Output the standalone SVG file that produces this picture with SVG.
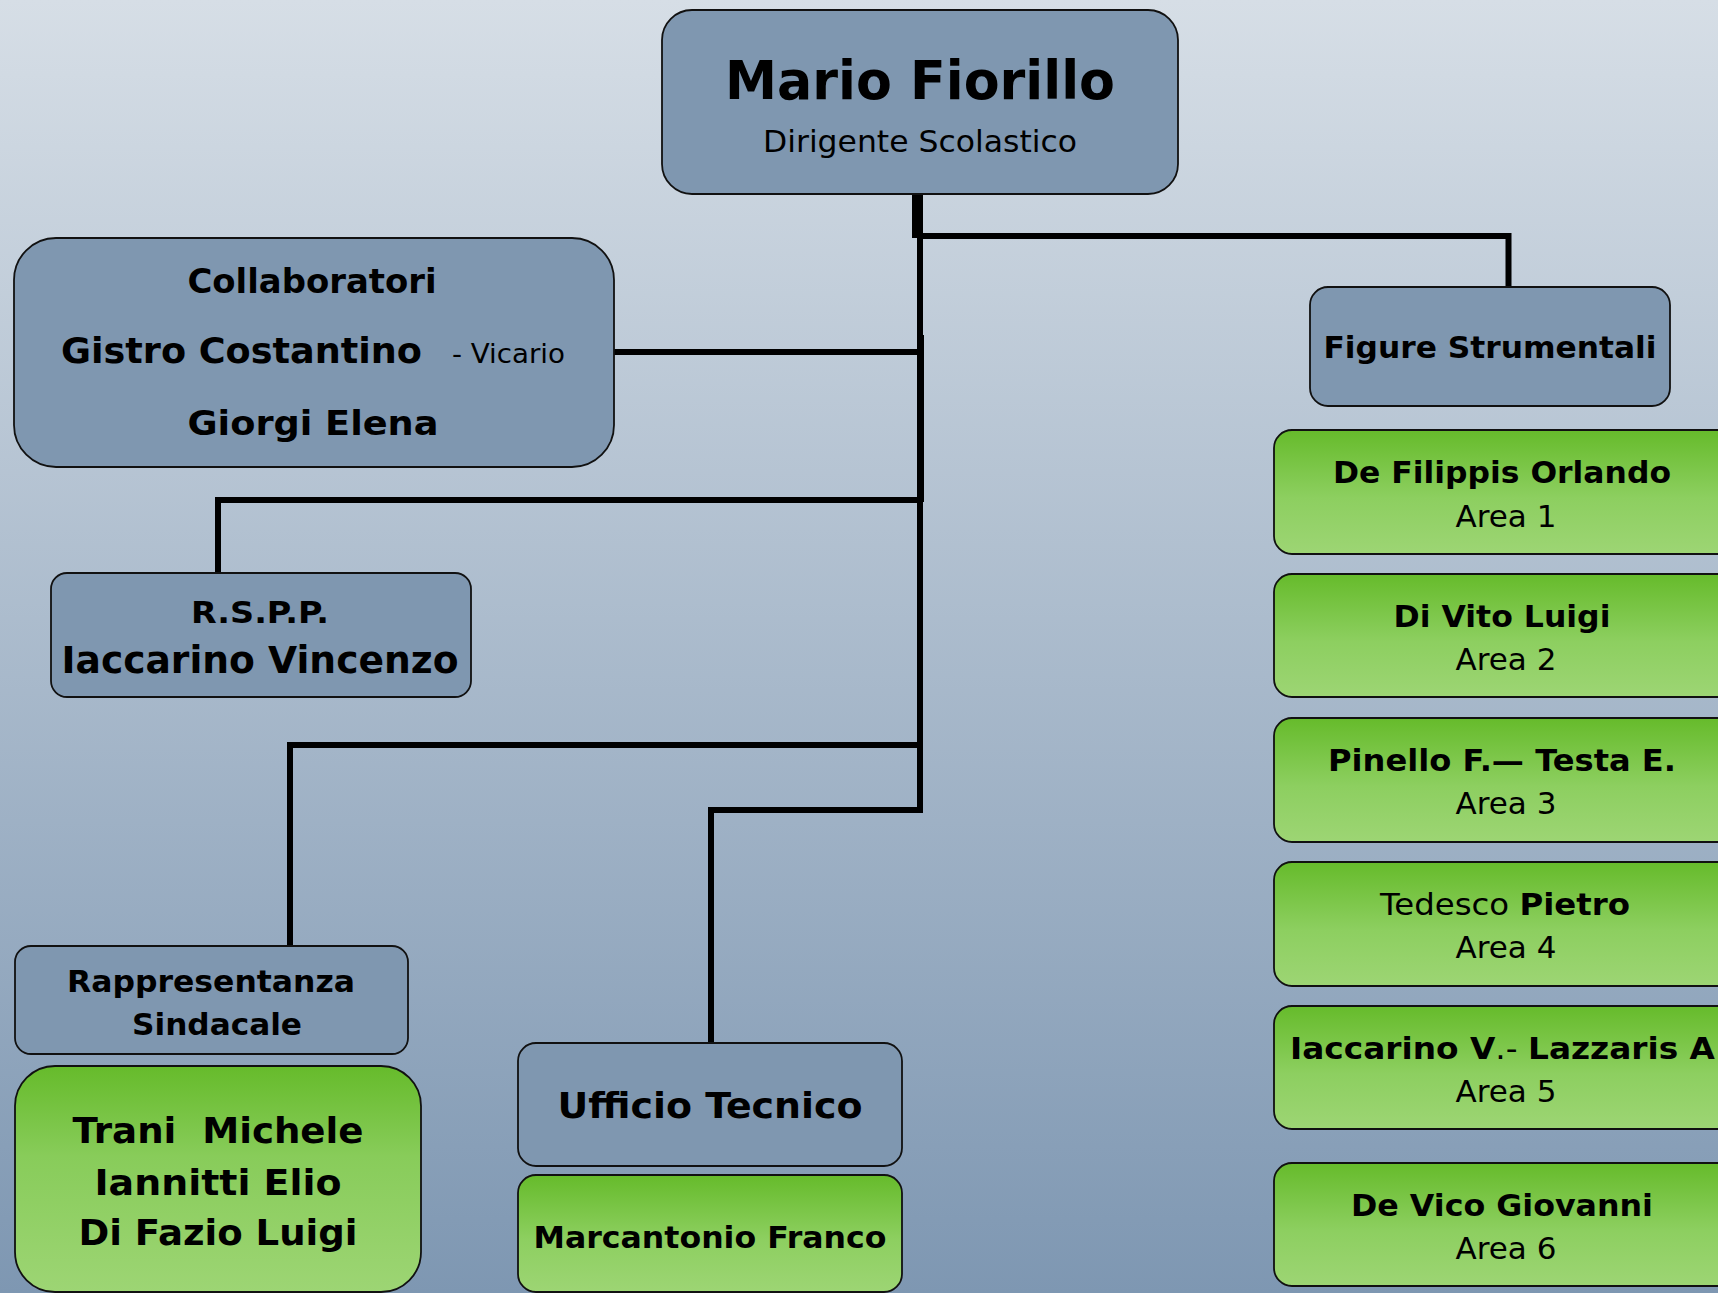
<svg xmlns="http://www.w3.org/2000/svg" width="1718" height="1293" viewBox="0 0 1718 1293">
  <defs>
    <linearGradient id="bg" x1="0" y1="0" x2="0" y2="1">
      <stop offset="0" stop-color="#d6dee6"/>
      <stop offset="1" stop-color="#7e97b2"/>
    </linearGradient>
    <linearGradient id="green" x1="0" y1="0" x2="0" y2="1">
      <stop offset="0" stop-color="#66bb2b"/>
      <stop offset="0.55" stop-color="#8dcf60"/>
      <stop offset="1" stop-color="#9dd574"/>
    </linearGradient>
    <linearGradient id="green2" x1="0" y1="0" x2="0" y2="1">
      <stop offset="0" stop-color="#66bb2b"/>
      <stop offset="0.4" stop-color="#88cc5a"/>
      <stop offset="1" stop-color="#9dd574"/>
    </linearGradient>
    <style>
      .box { fill: #7f97b0; stroke: #111; stroke-width: 1.8; }
      .gbox { fill: url(#green); stroke: #111; stroke-width: 1.8; }
      .gbox2 { fill: url(#green2); stroke: #111; stroke-width: 1.8; }
      text { font-family: "DejaVu Sans", Verdana, sans-serif; fill: #000; }
      .b { font-weight: bold; }
      .n { font-weight: normal; }
      .c { text-anchor: middle; }
      .conn { fill: none; stroke: #000; stroke-width: 6; stroke-linejoin: miter; }
    </style>
  </defs>

  <rect x="0" y="0" width="1718" height="1293" fill="url(#bg)"/>

  <g id="connectors">
    <rect x="912" y="194" width="11" height="44" fill="#000"/>
    <path class="conn" d="M920 194 V813"/>
    <rect x="917" y="335" width="7" height="167" fill="#000"/>
    <path class="conn" d="M920 236 H1508.5 V287"/>
    <path class="conn" d="M614 352 H920"/>
    <path class="conn" d="M218 573 V500 H922"/>
    <path class="conn" d="M290 946 V745 H920"/>
    <path class="conn" d="M711 1043 V810 H920"/>
  </g>

  <g id="node-dirigente">
    <rect class="box" x="662" y="10" width="516" height="184" rx="30"/>
    <text class="b c" x="920" y="99" font-size="54" textLength="390" lengthAdjust="spacingAndGlyphs">Mario Fiorillo</text>
    <text class="c" x="920" y="152" font-size="31" textLength="314" lengthAdjust="spacingAndGlyphs">Dirigente Scolastico</text>
  </g>

  <g id="node-collaboratori">
    <rect class="box" x="14" y="238" width="600" height="229" rx="42"/>
    <text class="b c" x="312" y="293" font-size="34" textLength="249" lengthAdjust="spacingAndGlyphs">Collaboratori</text>
    <text class="b" x="61" y="363" font-size="36" textLength="361" lengthAdjust="spacingAndGlyphs">Gistro Costantino</text>
    <text x="452" y="363" font-size="26" textLength="113" lengthAdjust="spacingAndGlyphs">- Vicario</text>
    <text class="b c" x="313" y="435" font-size="34" textLength="251" lengthAdjust="spacingAndGlyphs">Giorgi Elena</text>
  </g>

  <g id="node-rspp">
    <rect class="box" x="51" y="573" width="420" height="124" rx="16"/>
    <text class="b c" x="260" y="623" font-size="30" textLength="138" lengthAdjust="spacingAndGlyphs">R.S.P.P.</text>
    <text class="b c" x="260" y="673" font-size="37" textLength="397" lengthAdjust="spacingAndGlyphs">Iaccarino Vincenzo</text>
  </g>

  <g id="node-figure">
    <rect class="box" x="1310" y="287" width="360" height="119" rx="18"/>
    <text class="b c" x="1490" y="358" font-size="31" textLength="333" lengthAdjust="spacingAndGlyphs">Figure Strumentali</text>
  </g>

  <g id="node-area1">
    <rect class="gbox" x="1274" y="430" width="470" height="124" rx="18"/>
    <text class="b c" x="1502" y="483" font-size="31" textLength="338" lengthAdjust="spacingAndGlyphs">De Filippis Orlando</text>
    <text class="c" x="1506" y="527" font-size="31">Area 1</text>
  </g>

  <g id="node-area2">
    <rect class="gbox" x="1274" y="574" width="470" height="123" rx="18"/>
    <text class="b c" x="1502" y="627" font-size="31" textLength="217" lengthAdjust="spacingAndGlyphs">Di Vito Luigi</text>
    <text class="c" x="1506" y="670" font-size="31">Area 2</text>
  </g>

  <g id="node-area3">
    <rect class="gbox" x="1274" y="718" width="470" height="124" rx="18"/>
    <text class="b c" x="1502" y="771" font-size="31" textLength="348" lengthAdjust="spacingAndGlyphs">Pinello F.— Testa E.</text>
    <text class="c" x="1506" y="814" font-size="31">Area 3</text>
  </g>

  <g id="node-area4">
    <rect class="gbox" x="1274" y="862" width="470" height="124" rx="18"/>
    <text class="c" x="1505" y="915" font-size="31" textLength="250" lengthAdjust="spacingAndGlyphs">Tedesco <tspan class="b">Pietro</tspan></text>
    <text class="c" x="1506" y="958" font-size="31">Area 4</text>
  </g>

  <g id="node-area5">
    <rect class="gbox" x="1274" y="1006" width="470" height="123" rx="18"/>
    <text x="1290" y="1059" font-size="31" textLength="425" lengthAdjust="spacingAndGlyphs"><tspan class="b">Iaccarino V</tspan>.- <tspan class="b">Lazzaris A</tspan></text>
    <text class="c" x="1506" y="1102" font-size="31">Area 5</text>
  </g>

  <g id="node-area6">
    <rect class="gbox" x="1274" y="1163" width="470" height="123" rx="18"/>
    <text class="b c" x="1502" y="1216" font-size="31" textLength="302" lengthAdjust="spacingAndGlyphs">De Vico Giovanni</text>
    <text class="c" x="1506" y="1259" font-size="31">Area 6</text>
  </g>

  <g id="node-rappresentanza">
    <rect class="box" x="15" y="946" width="393" height="108" rx="16"/>
    <text class="b c" x="211" y="992" font-size="31" textLength="288" lengthAdjust="spacingAndGlyphs">Rappresentanza</text>
    <text class="b c" x="217" y="1035" font-size="31" textLength="170" lengthAdjust="spacingAndGlyphs">Sindacale</text>
  </g>

  <g id="node-rsu">
    <rect class="gbox2" x="15" y="1066" width="406" height="226" rx="40"/>
    <text class="b c" x="218" y="1143" font-size="36" textLength="291" lengthAdjust="spacingAndGlyphs" xml:space="preserve">Trani  Michele</text>
    <text class="b c" x="218" y="1195" font-size="36" textLength="247" lengthAdjust="spacingAndGlyphs">Iannitti Elio</text>
    <text class="b c" x="218" y="1245" font-size="36" textLength="279" lengthAdjust="spacingAndGlyphs">Di Fazio Luigi</text>
  </g>

  <g id="node-ufficio">
    <rect class="box" x="518" y="1043" width="384" height="123" rx="18"/>
    <text class="b c" x="710" y="1118" font-size="36" textLength="305" lengthAdjust="spacingAndGlyphs">Ufficio Tecnico</text>
  </g>

  <g id="node-marcantonio">
    <rect class="gbox" x="518" y="1175" width="384" height="117" rx="18"/>
    <text class="b c" x="710" y="1248" font-size="31" textLength="353" lengthAdjust="spacingAndGlyphs">Marcantonio Franco</text>
  </g>
</svg>
